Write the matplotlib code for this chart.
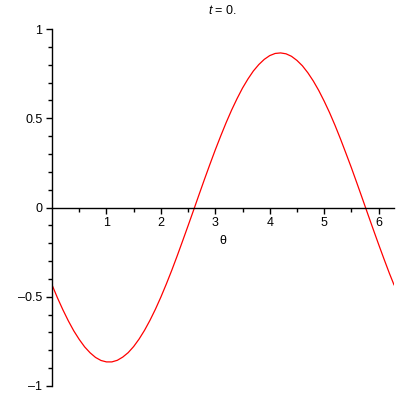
import numpy as np
import matplotlib
matplotlib.use('Agg')
from matplotlib import pyplot as plt

plt.rcParams['font.family'] = ['Liberation Sans', 'DejaVu Sans']
plt.rcParams['mathtext.fontset'] = 'custom'
plt.rcParams['mathtext.it'] = 'Liberation Sans:italic'
plt.rcParams['mathtext.rm'] = 'Liberation Sans'

# значения кривой (шаг 0.1)
theta = [0.0, 0.1, 0.2, 0.3, 0.4, 0.5, 0.6, 0.7, 0.8, 0.9, 1.0, 1.1, 1.2, 1.3,
         1.4, 1.5, 1.6, 1.7, 1.8, 1.9, 2.0, 2.1, 2.2, 2.3, 2.4, 2.5, 2.6, 2.7,
         2.8, 2.9, 3.0, 3.1, 3.2, 3.3, 3.4, 3.5, 3.6, 3.7, 3.8, 3.9, 4.0, 4.1,
         4.2, 4.3, 4.4, 4.5, 4.6, 4.7, 4.8, 4.9, 5.0, 5.1, 5.2, 5.3, 5.4, 5.5,
         5.6, 5.7, 5.8, 5.9, 6.0, 6.1, 6.2, 6.283]
y = [-0.433, -0.506, -0.573, -0.635, -0.691, -0.739, -0.781, -0.814, -0.840,
     -0.857, -0.865, -0.865, -0.856, -0.838, -0.813, -0.779, -0.737, -0.688,
     -0.632, -0.570, -0.502, -0.429, -0.352, -0.271, -0.187, -0.102, -0.016,
     0.071, 0.157, 0.241, 0.323, 0.401, 0.476, 0.546, 0.610, 0.669, 0.720,
     0.765, 0.801, 0.830, 0.851, 0.863, 0.866, 0.861, 0.847, 0.824, 0.794,
     0.755, 0.709, 0.656, 0.596, 0.531, 0.460, 0.384, 0.304, 0.223, 0.138,
     0.052, -0.035, -0.121, -0.206, -0.289, -0.370, -0.433]

x_ticks = [1, 2, 3, 4, 5, 6]
y_ticks = [-1, -0.5, 0, 0.5, 1]
y_tick_labels = ['\u20131', '\u20130.5', '0', '0.5', '1']

fig = plt.figure(figsize=(4, 4), dpi=100)
ax = fig.add_axes([0.13, 0.035, 0.855, 0.8925])
ax.plot(theta, y, color='red', lw=0.9)

ax.set_xlim(0, 2 * np.pi)
ax.set_ylim(-1, 1)

ax.spines['top'].set_visible(False)
ax.spines['right'].set_visible(False)
ax.spines['left'].set_position(('data', 0))
ax.spines['bottom'].set_position(('data', 0))
for s in ['left', 'bottom']:
    ax.spines[s].set_linewidth(1.0)

ax.set_xticks(x_ticks)
ax.set_xticklabels([str(t) for t in x_ticks])
ax.set_xticks(np.arange(0.5, 6.3, 0.5), minor=True)
ax.set_yticks(y_ticks)
ax.set_yticklabels(y_tick_labels)
ax.set_yticks(np.arange(-1, 1.01, 0.1), minor=True)

ax.tick_params(axis='both', which='major', length=4, width=1, labelsize=9, pad=3)
ax.tick_params(axis='both', which='minor', length=3, width=1)
ax.tick_params(axis='both', which='both', direction='out')

ax.text(np.pi, -0.185, '\u03b8', ha='center', va='center', fontsize=9)
fig.text(0.555, 0.975, '$t$ = 0.', ha='center', va='center', fontsize=9)

fig.savefig('out.png')
